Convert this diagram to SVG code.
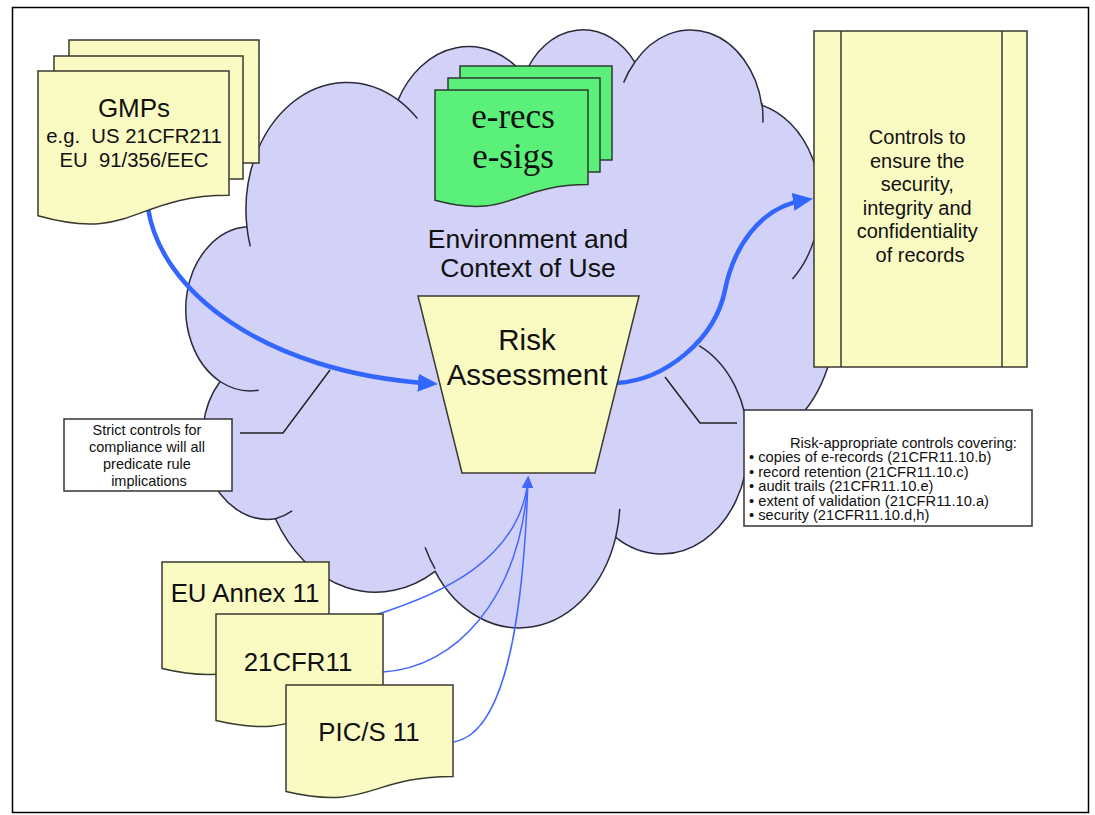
<svg xmlns="http://www.w3.org/2000/svg" width="1095" height="815" viewBox="0 0 1095 815">
  <style>
    .doc { fill: #fafac3; stroke: #3a3a30; stroke-width: 1.5; }
    .green { fill: #5af07a; stroke: #2f3a2f; stroke-width: 1.5; }
    .box { fill: #ffffff; stroke: #333333; stroke-width: 1.5; }
    .cloud { fill: #d2d2f9; stroke: #2a2a3a; stroke-width: 1.5; }
    .cloudline { fill: none; stroke: #2a2a3a; stroke-width: 1.5; }
    .sans { font-family: "Liberation Sans", Arial, sans-serif; fill: #111111; }
    .serif { font-family: "Liberation Serif", "Times New Roman", serif; fill: #111111; }
    .mid { text-anchor: middle; }
    .thick { fill: none; stroke: #3366ff; stroke-width: 4.5; }
    .thin { fill: none; stroke: #4466ff; stroke-width: 1.5; }
    .callout { fill: none; stroke: #222222; stroke-width: 1.5; }
  </style>
  <defs>
    <marker id="ahBig" markerUnits="userSpaceOnUse" viewBox="0 0 20 20" markerWidth="20" markerHeight="20" refX="12" refY="10" orient="auto">
      <path d="M0,1 L20,10 L0,19 Z" fill="#3366ff"/>
    </marker>
    <marker id="ahThin" markerUnits="userSpaceOnUse" viewBox="0 0 12 12" markerWidth="12" markerHeight="12" refX="8" refY="6" orient="auto">
      <path d="M0,0.5 L12,6 L0,11.5 Z" fill="#4466ff"/>
    </marker>
  </defs>

  <!-- frame -->
  <rect x="0" y="0" width="1095" height="815" fill="#ffffff"/>
  <rect x="12.5" y="7.5" width="1076" height="805" fill="#ffffff" stroke="#000000" stroke-width="1.5"/>

  <!-- cloud: environment and context of use -->
  <g id="cloud">
    <path class="cloud" d="M246.9,226.8 A101.0,127.2 0 0 1 398.1,99.9 A79.8,100.6 0 0 1 524.5,75.4 A65.3,82.3 0 0 1 634.8,62.2 A72.7,91.3 0 0 1 761.8,105.1 A79.8,100.7 0 0 1 814.1,241.9 A101.4,127.6 0 0 1 748.1,445.9 A86.5,108.9 0 0 1 615.7,537.4 A101.0,127.5 0 0 1 435.1,571.3 A115.5,145.9 0 0 1 275.4,518.8 A65.2,81.9 0 0 1 220.1,381.5 A65.0,82.3 0 0 1 246.9,226.8 Z"/>
    <path class="cloudline" d="M258.8,390.2 A65.0,82.3 0 0 1 220.1,381.5 M292.2,510.9 A65.2,81.9 0 0 1 275.4,518.8 M435.1,568.9 A101.0,127.5 0 0 1 425.1,547.2 M619.8,508.9 A101.0,127.5 0 0 1 615.7,537.4 M699.1,345.6 A86.5,108.9 0 0 1 748.1,445.9 M813.8,240.4 A79.8,100.7 0 0 1 792.5,278.9 M761.9,103.0 A72.7,91.3 0 0 1 762.9,122.6 M623.6,82.6 A72.7,91.3 0 0 1 634.8,62.2 M519.8,93.2 A65.3,82.3 0 0 1 524.5,75.4 M398.0,99.8 A101.0,127.2 0 0 1 417.5,118.6 M250.3,246.4 A101.0,127.2 0 0 1 246.9,227.0"/>
    <text class="sans mid" font-size="26.5" x="528" y="248">Environment and</text>
    <text class="sans mid" font-size="26.5" x="528" y="277">Context of Use</text>
  </g>

  <!-- connectors -->
  <g id="connectors">
    <path class="thick" d="M148,208 C160,290 262,372 430,383.5" marker-end="url(#ahBig)"/>
    <path class="thick" d="M617,383 C665,380 715,340 725,290 C733,250 758,207 805,200" marker-end="url(#ahBig)"/>
    <path class="thin" d="M372,616 C440,595 520,560 528,480" marker-end="url(#ahThin)"/>
    <path class="thin" d="M383,672 C455,668 520,600 528,480" marker-end="url(#ahThin)"/>
    <path class="thin" d="M454,742 C495,735 522,660 528,480" marker-end="url(#ahThin)"/>
    <path class="callout" d="M240,433 H283 L330,370"/>
    <path class="callout" d="M737,423 H700 L665,377"/>
  </g>

  <!-- GMPs document stack -->
  <g id="gmps">
    <rect class="doc" x="69" y="40" width="190" height="123"/>
    <rect class="doc" x="54" y="56" width="189" height="123"/>
    <path class="doc" d="M38,71 H229 V195.3 C133.5,195.3 133.5,242.6 38,215.8 Z"/>
    <text class="sans mid" font-size="26" x="134" y="117">GMPs</text>
    <text class="sans mid" font-size="20.3" x="134" y="143" style="white-space:pre" xml:space="preserve">e.g.  US 21CFR211</text>
    <text class="sans mid" font-size="20.3" x="134" y="167" style="white-space:pre" xml:space="preserve">EU  91/356/EEC</text>
  </g>

  <!-- e-records / e-signatures stack -->
  <g id="erecs">
    <rect class="green" x="460" y="66" width="152" height="94"/>
    <rect class="green" x="448" y="78" width="152" height="94"/>
    <path class="green" d="M435,90 H588 V184.6 C511.5,184.6 511.5,220.6 435,200.2 Z"/>
    <text class="serif mid" font-size="35" x="513" y="128">e-recs</text>
    <text class="serif mid" font-size="35" x="513" y="168">e-sigs</text>
  </g>

  <!-- risk assessment -->
  <g id="risk">
    <polygon class="doc" points="418,296 639,296 595,473 462,473"/>
    <text class="sans mid" font-size="29.5" x="527" y="350">Risk</text>
    <text class="sans mid" font-size="29.5" x="527" y="385">Assessment</text>
  </g>

  <!-- controls column -->
  <g id="controls">
    <rect class="doc" x="814" y="31" width="213" height="336"/>
    <line x1="841" y1="31" x2="841" y2="367" stroke="#3a3a30" stroke-width="1.5"/>
    <line x1="1002" y1="31" x2="1002" y2="367" stroke="#3a3a30" stroke-width="1.5"/>
    <text class="sans mid" font-size="20" x="920">
      <tspan x="920" y="144">Controls to</tspan>
      <tspan x="920" y="167.5">ensure the</tspan>
      <tspan x="920" y="191">security,</tspan>
      <tspan x="920" y="214.5">integrity and</tspan>
      <tspan x="920" y="238">confidentiality</tspan>
      <tspan x="920" y="261.5">of records</tspan>
    </text>
  </g>

  <!-- strict controls note -->
  <g id="strict">
    <rect class="box" x="64" y="419" width="168" height="72"/>
    <text class="sans mid" font-size="14.5" x="149">
      <tspan x="149" y="435">Strict controls for</tspan>
      <tspan x="149" y="452">compliance will all</tspan>
      <tspan x="149" y="469">predicate rule</tspan>
      <tspan x="149" y="486">implications</tspan>
    </text>
  </g>

  <!-- risk-appropriate controls note -->
  <g id="riskcontrols">
    <rect class="box" x="744" y="410" width="288" height="116"/>
    <text class="sans" font-size="14.7">
      <tspan x="790" y="447.5">Risk-appropriate controls covering:</tspan>
      <tspan x="749" y="462">• copies of e-records (21CFR11.10.b)</tspan>
      <tspan x="749" y="476.5">• record retention (21CFR11.10.c)</tspan>
      <tspan x="749" y="491">• audit trails (21CFR11.10.e)</tspan>
      <tspan x="749" y="505.5">• extent of validation (21CFR11.10.a)</tspan>
      <tspan x="749" y="520">• security (21CFR11.10.d,h)</tspan>
    </text>
  </g>

  <!-- regulation documents -->
  <g id="annex11">
    <path class="doc" d="M162,562 H329 V653.4 C245.5,653.4 245.5,688.2 162,668.5 Z"/>
    <text class="sans mid" font-size="25.8" x="245" y="602">EU Annex 11</text>
  </g>
  <g id="cfr11">
    <path class="doc" d="M216,614 H383 V705.4 C299.5,705.4 299.5,740.2 216,720.5 Z"/>
    <text class="sans mid" font-size="25.8" x="298" y="671">21CFR11</text>
  </g>
  <g id="pics11">
    <path class="doc" d="M286,685 H453 V776.4 C369.5,776.4 369.5,811.2 286,791.5 Z"/>
    <text class="sans mid" font-size="25.8" x="369" y="741">PIC/S 11</text>
  </g>
</svg>
